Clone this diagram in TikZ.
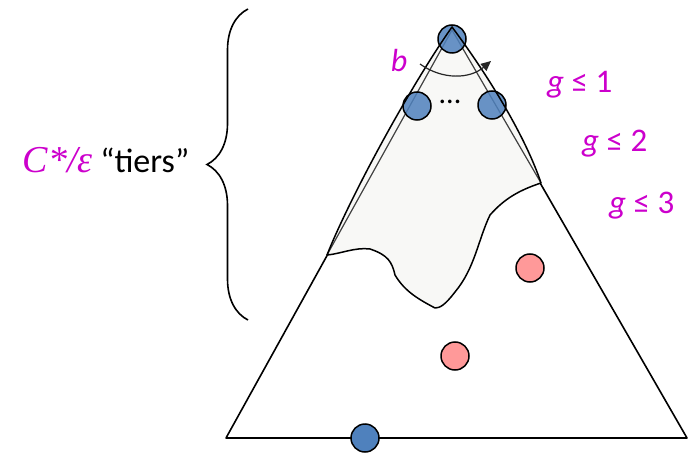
\documentclass[tikz,border=0pt]{standalone}
\usepackage{fontspec}
\setmainfont{Carlito}
\newfontfamily\timesfont{Liberation Serif}
\usepackage{xcolor}
\usetikzlibrary{positioning, arrows.meta, decorations.pathreplacing}
\definecolor{vtxblue}{RGB}{79,129,189}
\definecolor{vtxred}{RGB}{255,153,153}
\definecolor{lblmag}{RGB}{204,0,204}
\definecolor{capgray}{RGB}{248,248,246}

\begin{document}
\begin{tikzpicture}[x=1pt, y=-1pt,
    every node/.style={font=\fontsize{34}{38}\selectfont},
    vtx/.style={circle, draw, line width=1.5pt, minimum size=28pt, inner sep=0pt, fill=#1},
    capvtx/.style={vtx=#1, fill opacity=0.85},
    glbl/.style={text=lblmag, anchor=base west, inner sep=0pt, font=\fontsize{33}{36}\selectfont},
    edge/.style={line width=1.6pt},
    inedge/.style={line width=1.2pt, black!75},
    capline/.style={line width=1.5pt, line join=round},
    arcarrow/.style={-{Triangle[length=10pt, width=9pt]}, line width=1.2pt, black!85},
  ]
  \useasboundingbox (0,0) rectangle (695,454);

  % ---- Triangle ----
  \coordinate (top) at (452,30);
  \coordinate (botL) at (226,438);
  \coordinate (botR) at (687,438);
  \draw[edge, line join=round] (top) -- (botL) -- (botR) -- cycle;

  % ---- Cap (tiers) ----
  \coordinate (capL) at (327,255);
  \coordinate (capR) at (541,183);
  \coordinate (capT) at (452,27);
  \fill[capgray] (capL) .. controls (350,197) and (411,85) .. (capT)
    .. controls (490,78) and (526,138) .. (capR)
    .. controls (520,190) and (505,198) .. (490,215)
    .. controls (478,240) and (475,268) .. (455,292)
    .. controls (445,305) and (440,308) .. (435,308)
    .. controls (420,300) and (405,292) .. (395,275)
    .. controls (392,262) and (388,255) .. (370,249)
    .. controls (355,247) and (340,254) .. cycle;
  \draw[inedge] (capL) -- (top) -- (capR);

  % ---- Vertices ----
  \node[capvtx=vtxblue] (root) at (452,39) {};
  \node[capvtx=vtxblue] (kidL) at (417,106) {};
  \node[capvtx=vtxblue] (kidR) at (492,105) {};
  \node[font=\fontsize{30}{32}\selectfont] (dots) at (450,102) {...};
  \node[vtx=vtxred] (redA) at (530,268) {};
  \node[vtx=vtxred] (redB) at (455,356) {};
  \node[vtx=vtxblue] (leaf) at (365,438) {};

  \draw[capline] (capL) .. controls (350,197) and (411,85) .. (capT)
    .. controls (490,78) and (526,138) .. (capR)
    .. controls (520,190) and (505,198) .. (490,215)
    .. controls (478,240) and (475,268) .. (455,292)
    .. controls (445,305) and (440,308) .. (435,308)
    .. controls (420,300) and (405,292) .. (395,275)
    .. controls (392,262) and (388,255) .. (370,249)
    .. controls (355,247) and (340,254) .. (capL);

  % ---- Branching arc ----
  \coordinate (arcL) at (420,64);
  \coordinate (arcR) at (491,61);
  \draw[arcarrow] (arcL) to[bend right=38] (arcR);
  \node[text=lblmag, font=\fontsize{32}{36}\selectfont\itshape, anchor=base] (blbl) at (399,72) {b};

  % ---- Level labels ----
  \node[glbl] (g1) at (547,93) {\textit{g} ≤ 1};
  \node[glbl] (g2) at (582,152) {\textit{g} ≤ 2};
  \node[glbl] (g3) at (609,214) {\textit{g} ≤ 3};

  % ---- Brace ----
  \coordinate (braceB) at (248,320);
  \coordinate (braceT) at (248,9);
  \draw[line width=1.6pt, decorate, decoration={brace, amplitude=41pt}] (braceB) -- (braceT);
  \node (tiers) at (106,160) {{\timesfont\itshape\color{lblmag}\fontsize{38}{40}\selectfont C*/ε} “tiers”};
\end{tikzpicture}
\end{document}
